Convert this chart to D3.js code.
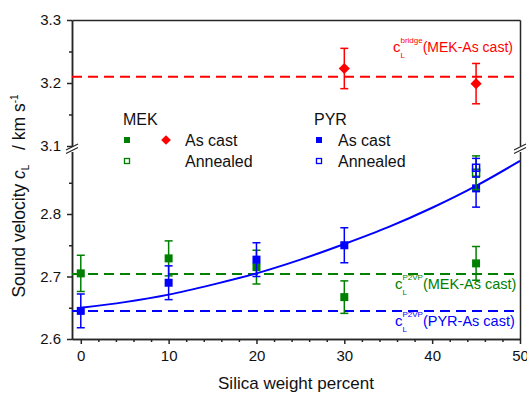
<!DOCTYPE html>
<html lang="en">
<head>
    <meta charset="UTF-8">
    <title>Sound velocity vs silica</title>
    <style>
        body { margin: 0; padding: 0; background: #fff; }
        text { font-family: Arial, "Liberation Sans", sans-serif; }
    </style>
</head>
<body>
    <script src="https://d3js.org/d3.v7.min.js"></script>
    <script>
        // data
        const silica = [0, 10, 20, 30, 45];
        const mekAsCast = [2.705, 2.729, 2.715, 2.667, 2.721];
        const mekAsCastErr = [0.029, 0.028, 0.027, 0.026, 0.027];
        const pyrAsCast = [2.645, 2.690, 2.727, 2.750, 2.841];
        const pyrAsCastErr = [0.027, 0.027, 0.027, 0.028, 0.030];
        const annealedX = [45];
        const mekAnnealed = [2.866];
        const mekAnnealedErr = [0.027];
        const pyrAnnealed = [2.874];
        const pyrAnnealedErr = [0.015];
        const bridgeX = [30, 45];
        const bridgeAsCast = [3.223, 3.199];
        const bridgeErr = [0.032, 0.032];
        const fitX = [0, 5, 10, 15, 20, 25, 30, 35, 40, 45, 50];
        const fitY = [2.650, 2.659, 2.671, 2.687, 2.705, 2.727, 2.752, 2.779, 2.810, 2.845, 2.885];
        const refBridge = 3.21, refMek = 2.704, refPyr = 2.645;
        const xTicks = [0, 10, 20, 30, 40, 50];
        const yLowTicks = [2.6, 2.7, 2.8];
        const yHighTicks = [3.1, 3.2, 3.3];

        const width = 527, height = 393;
        const mLeft = 72, mRight = 520, mTop = 20, mBottom = 339;
        const breakLow = 151.5, breakHigh = 146;
        const green = '#008000', red = '#ff0000', blue = '#0000ff', axisCol = '#262626';

        const svg = d3.select('body').append('svg')
            .attr('width', width).attr('height', height);

        const x = d3.scaleLinear().domain([-1, 50]).range([mLeft, mRight]);
        const yLow = d3.scaleLinear().domain([2.6, 2.9]).range([mBottom, breakLow]);
        const yHigh = d3.scaleLinear().domain([3.1, 3.3]).range([breakHigh, mTop]);
        const y = v => v >= 3.0 ? yHigh(v) : yLow(v);

        // axes
        const minorX = d3.range(0, 51, 2).filter(v => v % 10 !== 0);
        svg.append('g').attr('transform', `translate(0,${mBottom})`)
            .call(d3.axisBottom(x).tickValues(minorX).tickSize(3).tickSizeOuter(0).tickFormat(''));
        svg.append('g').attr('transform', `translate(0,${mBottom})`)
            .call(d3.axisBottom(x).tickValues(xTicks).tickSize(5).tickSizeOuter(0).tickPadding(6))
            .call(g => g.selectAll('text').attr('font-size', 15));

        svg.append('g').attr('transform', `translate(0,${mTop})`)
            .call(d3.axisTop(x).tickValues([]).tickSizeOuter(0));

        svg.append('g').attr('transform', `translate(${mLeft},0)`)
            .call(d3.axisLeft(yLow).tickValues([2.65, 2.75, 2.85]).tickSize(3).tickSizeOuter(0).tickFormat(''));
        svg.append('g').attr('transform', `translate(${mLeft},0)`)
            .call(d3.axisLeft(yLow).tickValues(yLowTicks).tickSize(5).tickSizeOuter(0).tickPadding(6).tickFormat(d3.format('.1f')))
            .call(g => g.selectAll('text').attr('font-size', 15));
        svg.append('g').attr('transform', `translate(${mLeft},0)`)
            .call(d3.axisLeft(yHigh).tickValues([3.15, 3.25]).tickSize(3).tickSizeOuter(0).tickFormat(''));
        svg.append('g').attr('transform', `translate(${mLeft},0)`)
            .call(d3.axisLeft(yHigh).tickValues(yHighTicks).tickSize(5).tickSizeOuter(0).tickPadding(6).tickFormat(d3.format('.1f')))
            .call(g => g.selectAll('text').attr('font-size', 15));

        svg.append('g').attr('transform', `translate(${mRight},0)`)
            .call(d3.axisRight(yLow).tickValues([]).tickSizeOuter(0));
        svg.append('g').attr('transform', `translate(${mRight},0)`)
            .call(d3.axisRight(yHigh).tickValues([]).tickSizeOuter(0));

        svg.selectAll('.domain, .tick line').attr('stroke', axisCol).attr('stroke-width', 1.5);
        svg.selectAll('.tick text').attr('fill', '#111');

        // break marks
        [mLeft, mRight].forEach(bx => {
            [breakHigh + 1, breakLow - 1].forEach(by => {
                svg.append('line')
                    .attr('x1', bx - 6).attr('y1', by + 3)
                    .attr('x2', bx + 6).attr('y2', by - 3)
                    .attr('stroke', axisCol).attr('stroke-width', 1.2);
            });
        });

        // reference lines
        [[refBridge, red], [refMek, green], [refPyr, blue]].forEach(([v, c]) => {
            svg.append('line')
                .attr('x1', mLeft).attr('x2', mRight)
                .attr('y1', y(v)).attr('y2', y(v))
                .attr('stroke', c).attr('stroke-width', 2)
                .attr('stroke-dasharray', '10,6');
        });

        // fit curve
        svg.append('path')
            .datum(fitX.map((d, i) => [d, fitY[i]]))
            .attr('d', d3.line().x(d => x(d[0])).y(d => y(d[1])).curve(d3.curveMonotoneX))
            .attr('fill', 'none').attr('stroke', blue).attr('stroke-width', 2);

        // error bars + markers
        function series(xs, vals, errs, color, shape) {
            const g = svg.append('g');
            const pts = xs.map((d, i) => ({ x: d, v: vals[i], e: errs[i] }));
            const eb = g.selectAll('g.eb').data(pts).join('g');
            eb.append('line')
                .attr('x1', d => x(d.x)).attr('x2', d => x(d.x))
                .attr('y1', d => y(d.v - d.e)).attr('y2', d => y(d.v + d.e));
            eb.append('line')
                .attr('x1', d => x(d.x) - 4).attr('x2', d => x(d.x) + 4)
                .attr('y1', d => y(d.v - d.e)).attr('y2', d => y(d.v - d.e));
            eb.append('line')
                .attr('x1', d => x(d.x) - 4).attr('x2', d => x(d.x) + 4)
                .attr('y1', d => y(d.v + d.e)).attr('y2', d => y(d.v + d.e));
            eb.selectAll('line').attr('stroke', color).attr('stroke-width', 1.5);
            const m = g.selectAll('path.m').data(pts).join('path')
                .attr('transform', d => `translate(${x(d.x)},${y(d.v)})`);
            if (shape === 'diamond') {
                m.attr('d', d3.symbol(d3.symbolDiamond2, 80)).attr('fill', color);
            } else if (shape === 'open') {
                m.attr('d', 'M-3.5,-3.5H3.5V3.5H-3.5Z').attr('fill', 'none')
                    .attr('stroke', color).attr('stroke-width', 1.5);
            } else {
                m.attr('d', 'M-4,-4H4V4H-4Z').attr('fill', color);
            }
        }
        series(silica, mekAsCast, mekAsCastErr, green, 'filled');
        series(silica, pyrAsCast, pyrAsCastErr, blue, 'filled');
        series(annealedX, mekAnnealed, mekAnnealedErr, green, 'open');
        series(annealedX, pyrAnnealed, pyrAnnealedErr, blue, 'open');
        series(bridgeX, bridgeAsCast, bridgeErr, red, 'diamond');

        // legend
        const lg = svg.append('g').attr('font-size', 16).attr('fill', '#111');
        lg.append('text').attr('x', 123).attr('y', 125).text('MEK');
        lg.append('text').attr('x', 314).attr('y', 125).text('PYR');
        lg.append('text').attr('x', 185).attr('y', 146).text('As cast');
        lg.append('text').attr('x', 185).attr('y', 167).text('Annealed');
        lg.append('text').attr('x', 338).attr('y', 146).text('As cast');
        lg.append('text').attr('x', 338).attr('y', 167).text('Annealed');
        lg.append('rect').attr('x', 124).attr('y', 137).attr('width', 6).attr('height', 6).attr('fill', green);
        lg.append('rect').attr('x', 124.5).attr('y', 158.5).attr('width', 5).attr('height', 5)
            .attr('fill', 'none').attr('stroke', green).attr('stroke-width', 1.3);
        lg.append('rect').attr('x', 316).attr('y', 137).attr('width', 6).attr('height', 6).attr('fill', blue);
        lg.append('rect').attr('x', 316.5).attr('y', 158.5).attr('width', 5).attr('height', 5)
            .attr('fill', 'none').attr('stroke', blue).attr('stroke-width', 1.3);
        lg.append('path').attr('transform', 'translate(166,140)')
            .attr('d', d3.symbol(d3.symbolDiamond2, 60)).attr('fill', red);

        // annotations: c with stacked sub/superscript, one text element each
        function label(cx, base, sup, rest, color, fs) {
            const t = svg.append('text').attr('x', cx).attr('y', base).attr('fill', color);
            t.append('tspan').attr('font-size', 15).text('c');
            t.append('tspan').attr('font-size', 8).attr('dy', 6).text('L');
            t.append('tspan').attr('font-size', 8).attr('dx', -4.5).attr('dy', -15).text(sup);
            t.append('tspan').attr('font-size', fs).attr('dy', 9).text(rest);
        }
        label(393, 52, 'bridge', '(MEK-As cast)', red, 14);
        label(395, 289, 'P2VP', '(MEK-As cast)', green, 14.5);
        label(395, 326, 'P2VP', '(PYR-As cast)', blue, 14.5);

        // axis titles
        svg.append('text')
            .attr('x', (mLeft + mRight) / 2).attr('y', 389)
            .attr('text-anchor', 'middle').attr('font-size', 17).attr('fill', '#111')
            .text('Silica weight percent');

        const yt = svg.append('text')
            .attr('transform', 'translate(25,196) rotate(-90)')
            .attr('text-anchor', 'middle').attr('font-size', 17.5).attr('fill', '#111');
        yt.append('tspan').text('Sound velocity ');
        yt.append('tspan').attr('font-style', 'italic').text('c');
        yt.append('tspan').attr('font-size', 10).attr('dy', 4).text('L');
        yt.append('tspan').attr('dy', -4).text('\u00a0\u00a0 / km s');
        yt.append('tspan').attr('font-size', 10).attr('dy', -7).text('-1');
    </script>
</body>
</html>
